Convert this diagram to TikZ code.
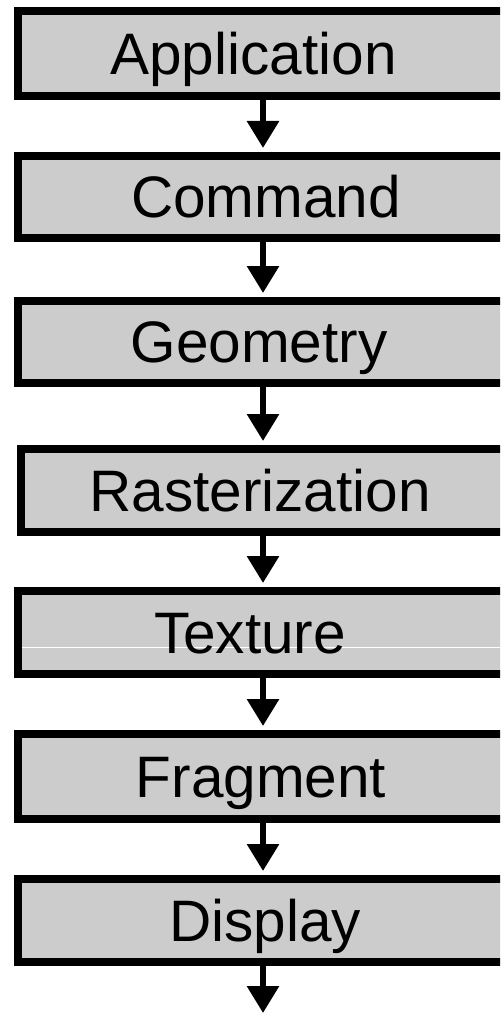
\documentclass[tikz,border=0pt]{standalone}
\usepackage{fontspec}
\setmainfont{Liberation Sans}
\usetikzlibrary{arrows.meta}
\definecolor{boxfill}{HTML}{CCCCCC}
\tikzset{
  stage/.style={draw=black, fill=boxfill, line width=8pt, rectangle,
    inner sep=0pt, outer sep=0pt, anchor=north west},
  stagetext/.style={inner sep=0pt, text height=41.5pt, text depth=0pt,
    font=\fontsize{58.5}{60}\selectfont},
  flow/.style={line width=6pt, -{Triangle[width=31pt,length=27pt]}, shorten >=8pt}
}
\begin{document}
\begin{tikzpicture}[x=1pt,y=-1pt]
  \useasboundingbox (0,0) rectangle (500,1016);
  \clip (0,0) rectangle (500,1016);
  % pipeline stages (outer edges: left, top .. bottom)
  \node[stage, minimum width=490pt, minimum height=85pt] (app)  at (18,11)  {};
  \node[stage, minimum width=490pt, minimum height=82pt] (cmd)  at (18,156) {};
  \node[stage, minimum width=490pt, minimum height=82pt] (geo)  at (18,301) {};
  \node[stage, minimum width=487pt, minimum height=83pt] (ras)  at (21,449) {};
  \node[stage, minimum width=490pt, minimum height=83pt] (tex)  at (18,591) {};
  \node[stage, minimum width=490pt, minimum height=85pt] (frag) at (18,734) {};
  \node[stage, minimum width=490pt, minimum height=83pt] (disp) at (18,879) {};
  % thin light seam across the texture stage
  \draw[white, line width=0.9pt] (22,647) -- (512,647);
  % stage labels
  \node[stagetext] (appt)  at (253.5,53.5) {Application};
  \node[stagetext] (cmdt)  at (266,197)    {Command};
  \node[stagetext] (geot)  at (259,342)    {Geometry};
  \node[stagetext] (rast)  at (260,490.5)  {Rasterization};
  \node[stagetext] (text)  at (250,632.5)  {Texture};
  \node[stagetext] (fragt) at (261,776.5)  {Fragment};
  \node[stagetext] (dispt) at (265,920.5)  {Display};
  % connectors
  \coordinate (ax) at (263,0);
  \coordinate (out) at (263,1013);
  \draw[flow] (app.south -| ax)  -- (cmd.north -| ax);
  \draw[flow] (cmd.south -| ax)  -- (geo.north -| ax);
  \draw[flow] (geo.south -| ax)  -- (ras.north -| ax);
  \draw[flow] (ras.south -| ax)  -- (tex.north -| ax);
  \draw[flow] (tex.south -| ax)  -- (frag.north -| ax);
  \draw[flow] (frag.south -| ax) -- (disp.north -| ax);
  \draw[flow, shorten >=0pt] (disp.south -| ax) -- (out);
\end{tikzpicture}
\end{document}
